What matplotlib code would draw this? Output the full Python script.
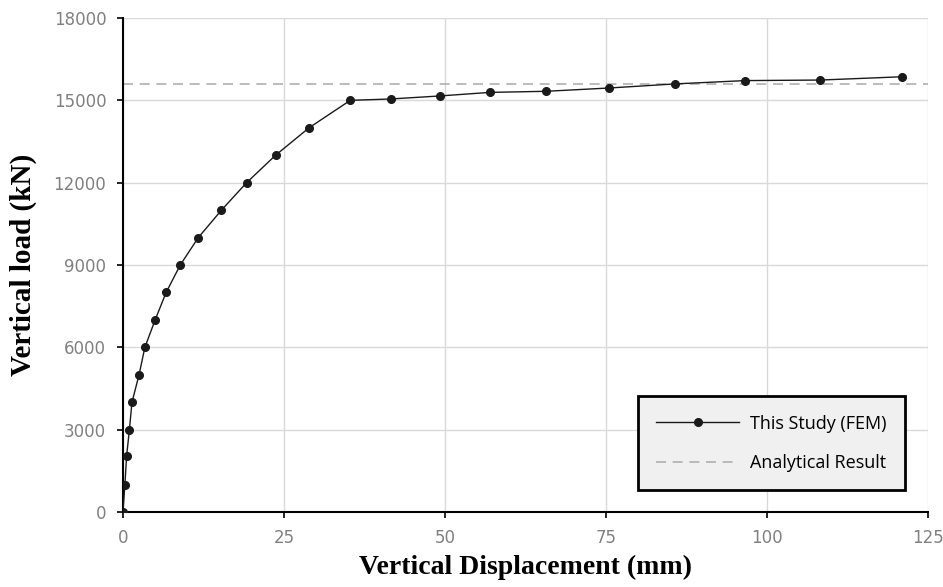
import matplotlib.pyplot as plt

# FEM load-displacement curve
disp = [0, 0.3, 0.57, 1.0, 1.4, 2.5, 3.4, 5.0, 6.7, 8.9, 11.7, 15.3, 19.2,
        23.7, 28.9, 35.3, 41.6, 49.2, 57.0, 65.7, 75.5, 85.8, 96.6, 108.3, 121.0]
load = [0, 1000, 2050, 3000, 4000, 5000, 6000, 7000, 8000, 9000, 10000, 11000,
        12000, 13000, 14000, 15000, 15050, 15160, 15290, 15330, 15450, 15600,
        15720, 15740, 15860]

analytical = 15600

xticks = [0, 25, 50, 75, 100, 125]
yticks = [0, 3000, 6000, 9000, 12000, 15000, 18000]

fig = plt.figure(figsize=(9.43, 5.87), dpi=100)
ax = fig.add_axes([0.1304, 0.1278, 0.8536, 0.8415])

ax.axhline(analytical, color='#b0b0b0', linestyle=(0, (6, 4)), linewidth=1.2,
           label='Analytical Result', zorder=2)
ax.plot(disp, load, marker='o', markersize=5.5, color='#1a1a1a', linewidth=1.0,
        label='This Study (FEM)', zorder=3)

ax.set_xlim(0, 125)
ax.set_ylim(0, 18000)
ax.set_xticks(xticks)
ax.set_yticks(yticks)
ax.grid(color='#d9d9d9', linewidth=1.0)
ax.set_axisbelow(True)

for s in ['top', 'right']:
    ax.spines[s].set_visible(False)
for s in ['left', 'bottom']:
    ax.spines[s].set_linewidth(1.5)
    ax.spines[s].set_color('black')

ax.tick_params(axis='both', colors='black', length=4, width=1.2, direction='out', pad=8)
for lab in ax.get_xticklabels() + ax.get_yticklabels():
    lab.set_color('#808080')
    lab.set_fontsize(12)
    lab.set_family('Liberation Sans Narrow')

ax.set_xlabel('Vertical Displacement (mm)', fontsize=20, fontweight='bold',
              family='Liberation Serif', labelpad=6)
ax.set_ylabel('Vertical load (kN)', fontsize=21, fontweight='bold',
              family='Liberation Serif', labelpad=12)

handles, labels = ax.get_legend_handles_labels()
leg = ax.legend(handles[::-1], labels[::-1], loc='lower right',
                bbox_to_anchor=(0.971, 0.044), frameon=True, fancybox=False,
                facecolor='#f0f0f0', edgecolor='black', framealpha=1,
                prop={'family': 'Open Sans', 'size': 13},
                borderpad=1.0, labelspacing=1.2, handlelength=4.6,
                handletextpad=0.6, borderaxespad=0)
leg.get_frame().set_linewidth(2)

plt.savefig('out.png', dpi=100)
